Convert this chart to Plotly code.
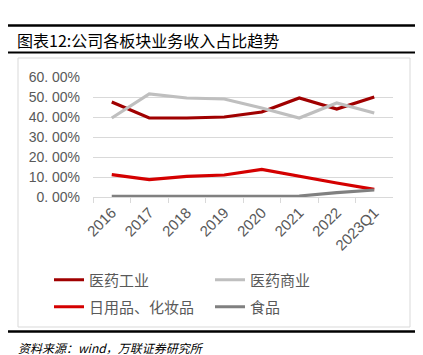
import plotly.graph_objects as go

categories = ["2016", "2017", "2018", "2019", "2020", "2021", "2022", "2023Q1"]
pharma_industry = [0.475, 0.395, 0.395, 0.40, 0.425, 0.495, 0.44, 0.50]
pharma_commerce = [0.395, 0.515, 0.495, 0.49, 0.445, 0.395, 0.47, 0.42]
daily_cosmetics = [0.112, 0.087, 0.103, 0.110, 0.138, 0.103, 0.070, 0.038]
food = [0.003, 0.005, 0.003, 0.003, 0.003, 0.005, 0.022, 0.035]
y_ticks = [0, 0.1, 0.2, 0.3, 0.4, 0.5, 0.6]
y_ticktext = ["0. 00%", "10. 00%", "20. 00%", "30. 00%", "40. 00%", "50. 00%", "60. 00%"]

W, H = 423, 355
def px_x(x):
    return x / W
def px_y(y):
    return 1 - y / H

FONT = "Noto Sans CJK SC, Noto Sans, sans-serif"

fig = go.Figure()
series = [
    ("医药工业", pharma_industry, "#a00000", "legend"),
    ("医药商业", pharma_commerce, "#bfbfbf", "legend"),
    ("日用品、化妆品", daily_cosmetics, "#d40000", "legend2"),
    ("食品", food, "#808080", "legend2"),
]
for name, vals, color, lg in series:
    fig.add_trace(go.Scatter(
        x=categories, y=vals, name=name, mode="lines",
        line=dict(color=color, width=3.2),
        legend=lg,
    ))

shapes = [
    dict(type="line", xref="paper", yref="paper", x0=0, x1=px_x(415),
         y0=px_y(17.5), y1=px_y(17.5), line=dict(color="black", width=2.5)),
    dict(type="line", xref="paper", yref="paper", x0=0, x1=px_x(415),
         y0=px_y(44.5), y1=px_y(44.5), line=dict(color="black", width=2)),
    dict(type="line", xref="paper", yref="paper", x0=0, x1=px_x(415),
         y0=px_y(323.5), y1=px_y(323.5), line=dict(color="black", width=2.5)),
    dict(type="rect", xref="paper", yref="paper", x0=px_x(10), x1=px_x(402),
         y0=px_y(319), y1=px_y(50), line=dict(color="#d9d9d9", width=1)),
]

legend_common = dict(
    orientation="h", xanchor="left", yanchor="middle",
    entrywidth=116, entrywidthmode="pixels",
    font=dict(size=15, color="#595959", family=FONT),
    bgcolor="rgba(0,0,0,0)", itemwidth=30,
)

fig.update_layout(
    width=W, height=H,
    margin=dict(l=0, r=0, t=0, b=0, autoexpand=False),
    paper_bgcolor="white", plot_bgcolor="white",
    font=dict(family=FONT, color="#595959"),
    shapes=shapes,
    xaxis=dict(
        domain=[px_x(85), px_x(385)],
        type="category",
        automargin=False,
        tickangle=-45,
        tickfont=dict(size=15, color="#595959", family="Liberation Sans, Arial, sans-serif"),
        showgrid=False,
        showline=True, linecolor="#d9d9d9", linewidth=1,
        ticks="outside", ticklen=5, tickcolor="#d9d9d9",
        tickson="boundaries",
        range=[-0.5, 7.5],
    ),
    yaxis=dict(
        domain=[px_y(189), px_y(69)],
        range=[0, 0.6],
        automargin=False,
        tickvals=y_ticks, ticktext=y_ticktext,
        tickfont=dict(size=14, color="#595959", family="Liberation Sans, Arial, sans-serif"),
        showgrid=True, gridcolor="#d9d9d9", gridwidth=1,
        zeroline=False, showline=False,
        ticks="", ticklabelstandoff=12,
    ),
    legend=dict(x=px_x(41), y=px_y(272), **legend_common),
    legend2=dict(x=px_x(41), y=px_y(299), **legend_common),
    annotations=[
        dict(text="图表12:公司各板块业务收入占比趋势", xref="paper", yref="paper",
             x=px_x(7), y=px_y(32), xanchor="left", yanchor="middle", showarrow=False,
             font=dict(size=16, color="black", family=FONT)),
        dict(text="<i>资料来源：wind，万联证券研究所</i>", xref="paper", yref="paper",
             x=px_x(8), y=px_y(339), xanchor="left", yanchor="middle", showarrow=False,
             font=dict(size=12, color="black", family=FONT)),
    ],
)

fig.write_html("out.html")
